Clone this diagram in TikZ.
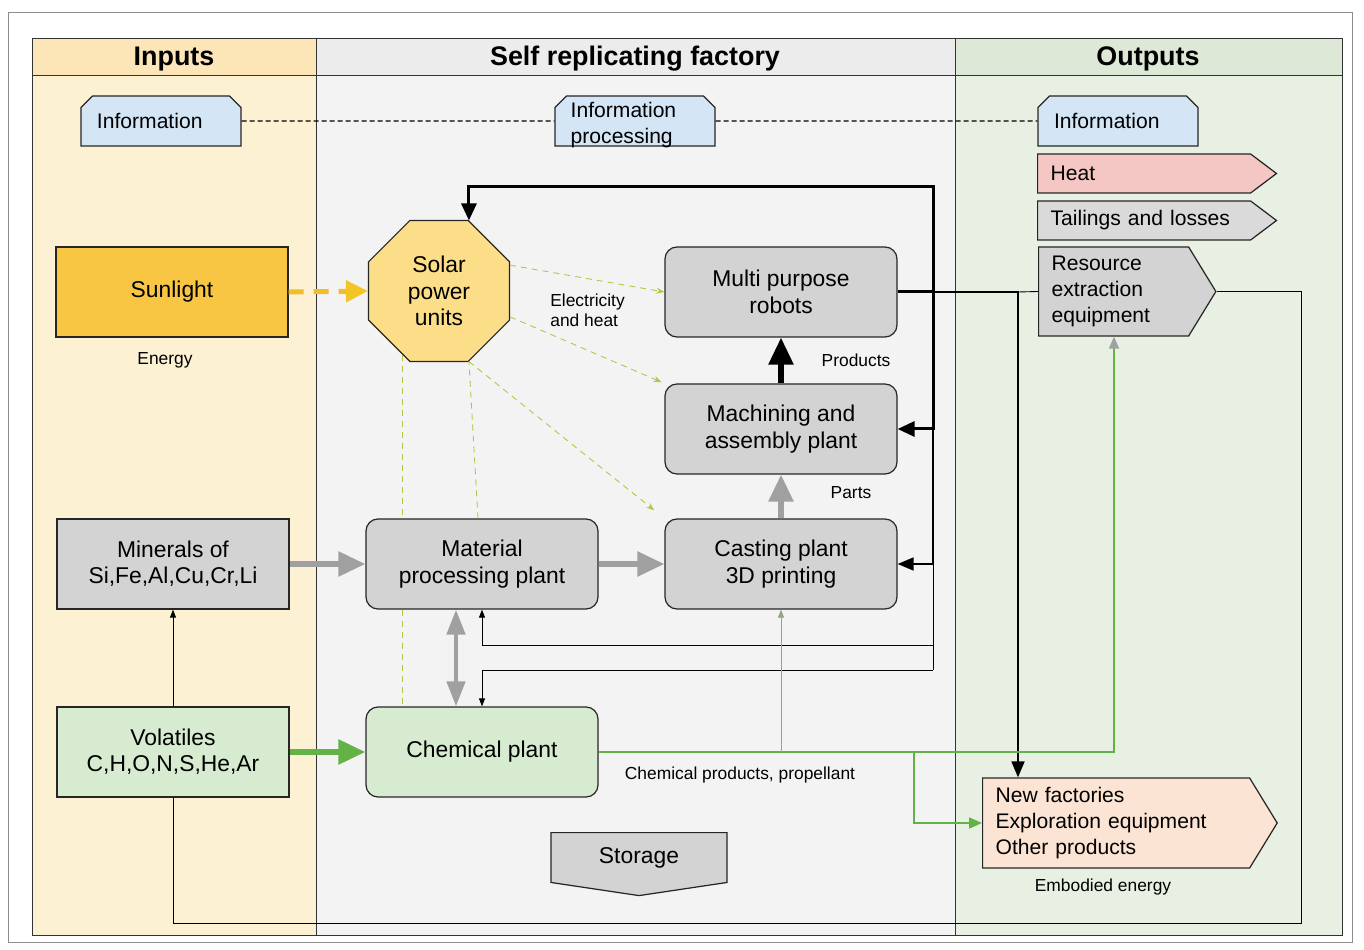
\documentclass[tikz,border=0pt]{standalone}
\usepackage{fontspec}
\setmainfont{Liberation Sans}
\usetikzlibrary{arrows.meta,shapes.geometric,shapes.misc,shapes.symbols}

\definecolor{inbg}{RGB}{253,241,212}
\definecolor{inhead}{RGB}{252,229,182}
\definecolor{facbg}{RGB}{243,243,243}
\definecolor{fachead}{RGB}{236,236,236}
\definecolor{outbg}{RGB}{232,240,227}
\definecolor{outhead}{RGB}{221,232,214}
\definecolor{infoblue}{RGB}{212,229,246}
\definecolor{sunfill}{RGB}{248,198,66}
\definecolor{solarfill}{RGB}{253,222,136}
\definecolor{boxgray}{RGB}{211,211,211}
\definecolor{tailgray}{RGB}{218,218,218}
\definecolor{chemgreen}{RGB}{214,235,208}
\definecolor{heatfill}{RGB}{245,199,196}
\definecolor{newfill}{RGB}{252,228,212}
\definecolor{flowgray}{RGB}{160,160,160}
\definecolor{flowgreen}{RGB}{98,178,72}
\definecolor{sunline}{RGB}{240,190,40}
\definecolor{elecline}{RGB}{185,195,70}

\newcommand{\mainfs}{\fontsize{13}{15}\selectfont}
\newcommand{\tagfs}{\fontsize{12}{15}\selectfont}
\newcommand{\headfs}{\fontsize{15.3}{18}\selectfont\bfseries}
\newcommand{\notefs}{\fontsize{9.9}{11.3}\selectfont}

\tikzset{
  head/.style={font=\headfs},
  note/.style={font=\notefs, align=left, inner sep=0pt},
  box/.style={draw=black!85, line width=0.7pt, minimum width=46.4mm,
    minimum height=18mm, align=center, font=\mainfs},
  plant/.style={box, rounded corners=2.4mm, fill=boxgray},
  infotag/.style={chamfered rectangle, chamfered rectangle corners={north west,north east},
    chamfered rectangle xsep=1mm, chamfered rectangle ysep=1.3mm,
    draw=black!85, line width=0.7pt, fill=infoblue, font=\tagfs,
    text width=25.6mm, align=left, inner xsep=2.2mm, minimum height=10mm},
  outsig/.style={signal, signal to=east, signal from=nowhere, anchor=west,
    draw=black!85, line width=0.7pt, font=\tagfs, align=left, inner xsep=2.6mm},
  solarunit/.style={regular polygon, regular polygon sides=8, minimum size=30.5mm,
    draw=black!85, line width=0.7pt, fill=solarfill, align=center, font=\mainfs, inner sep=0pt},
  storebox/.style={signal, signal to=south, signal from=nowhere, signal pointer angle=163,
    anchor=north, draw=black!85, line width=0.7pt, fill=boxgray, font=\mainfs,
    text width=30mm, align=center, inner xsep=2.6mm, minimum height=12.6mm},
  infolink/.style={black, line width=0.6pt, dash pattern=on 1mm off 0.6mm},
  sunflow/.style={sunline, line width=1mm, dash pattern=on 3mm off 2mm,
    -{Triangle[length=4.4mm, width=4.2mm, color=sunline!90!yellow]}},
  elec/.style={elecline, line width=0.5pt, dash pattern=on 1.2mm off 1mm},
  elecarr/.style={elec, -{Stealth[length=1.6mm, width=1.2mm]}},
  grayflow/.style={flowgray, line width=1.1mm, -{Triangle[length=5.4mm, width=4.8mm]}},
  blackflow/.style={black, line width=1.1mm, -{Triangle[length=5.4mm, width=4.8mm]}},
  greenflow/.style={flowgreen, line width=1.1mm, -{Triangle[length=5.4mm, width=4.8mm]}},
  loopthick/.style={black, line width=0.6mm, -{Triangle[length=3.4mm, width=3mm]}},
  loopmid/.style={black, line width=0.35mm, -{Triangle[length=3.2mm, width=2.6mm]}},
  loopthin/.style={black, line width=0.5pt, -{Triangle[length=1.6mm, width=1.2mm]}},
  chemflow/.style={flowgreen, line width=0.35mm},
}

\begin{document}
\begin{tikzpicture}[x=0.2mm, y=-0.2mm]
\useasboundingbox (0,0) rectangle (1364,950);

% Frame and lanes
\draw[black!45] (8,12) rectangle (1352,942);
\fill[inbg] (32,38) rectangle (316,935);
\fill[facbg] (316,38) rectangle (955,935);
\fill[outbg] (955,38) rectangle (1342,935);
\fill[inhead] (32,38) rectangle (316,75);
\fill[fachead] (316,38) rectangle (955,75);
\fill[outhead] (955,38) rectangle (1342,75);
\draw[black!80] (32,38) rectangle (1342,935);
\draw[black!80] (32,75) -- (1342,75);
\draw[black!80] (316,38) -- (316,935);
\draw[black!80] (955,38) -- (955,935);

\node[head] (hin) at (174,59) {Inputs};
\node[head] (hfac) at (635,59) {Self replicating factory};
\node[head] (hout) at (1148,59) {Outputs};

% Information
\node[infotag] (infoin) at (161,121) {Information};
\node[infotag] (infoproc) at (635,121) {};
\node[font=\tagfs, align=left, anchor=west, inner sep=0pt] (infoproctxt)
  at ([xshift=3.2mm, yshift=-0.8mm]infoproc.west) {Information\\processing};
\node[infotag] (infoout) at (1118,121) {Information};

% Outputs
\node[outsig, fill=heatfill, text width=37.4mm, minimum height=7.8mm,
  signal pointer angle=74] (heat) at (1037,173.5) {Heat};
\node[outsig, fill=tailgray, text width=37.4mm, minimum height=7.8mm,
  signal pointer angle=74] (tail) at (1037,220.5) {Tailings and losses};
\node[outsig, fill=boxgray, text width=24.8mm, minimum height=17.8mm,
  signal pointer angle=117] (resource) at (1038,291.5) {Resource\\extraction\\equipment};
\node[outsig, fill=newfill, text width=48.2mm, minimum height=18mm,
  signal pointer angle=117] (newf) at (982,823) {New factories\\Exploration equipment\\Other products};

% Inputs
\node[box, fill=sunfill] (sun) at (172,292) {Sunlight};
\node[box, fill=boxgray] (minerals) at (173,564) {Minerals of\\Si,Fe,Al,Cu,Cr,Li};
\node[box, fill=chemgreen] (vol) at (173,752) {Volatiles\\C,H,O,N,S,He,Ar};

% Factory
\node[solarunit] (solar) at (439,291) {Solar\\power\\units};
\node[plant] (robots) at (781,292) {Multi purpose\\robots};
\node[plant] (mach) at (781,429) {Machining and\\assembly plant};
\node[plant] (cast) at (781,564) {Casting plant\\3D printing};
\node[plant] (mat) at (482,564) {Material\\processing plant};
\node[plant, fill=chemgreen] (chem) at (482,752) {Chemical plant};
\node[storebox] (store) at (639,832) {Storage};

% Labels
\node[note] (energylbl) at (165,360) {Energy};
\node[note, anchor=west] (eleclbl) at (550,310) {Electricity\\and heat};
\node[note] (prodlbl) at (856,360) {Products};
\node[note] (partlbl) at (851,493) {Parts};
\node[note] (chemlbl) at (740,775) {Chemical products, propellant};
\node[note] (embodlbl) at (1103,887) {Embodied energy};

% Junctions
\coordinate (jr) at (933,292);
\coordinate (jtop) at (933,187);
\coordinate (jmat) at (933,645);
\coordinate (jchem) at (933,670);
\coordinate (jn) at (1018,292);
\coordinate (lb) at (1301,923);
\coordinate (gr) at (1114,752);
\coordinate (gn) at (914,752);
\coordinate (gk) at (781,752);

% Information links
\draw[infolink] (infoin) -- (infoproc);
\draw[infolink] (infoproc) -- (infoout);

% Energy
\draw[sunflow] (sun.east) -- (solar.west);
\draw[elecarr] (solar.20) -- (robots.west);
\draw[elecarr, shorten >=0.6mm] (solar.-20) -- (mach.north west);
\draw[elecarr, shorten >=2.6mm] (solar.-67.5) -- (cast.north west);
\draw[elec] ([xshift=-0.8mm]mat.north) -- (solar.-67.5);
\draw[elec] (solar.-120) -- (solar.-120 |- mat.north);
\draw[elec] (solar.-120 |- mat.south) -- (solar.-120 |- chem.north);

% Material flow
\draw[grayflow] (minerals) -- (mat);
\draw[grayflow] (mat) -- (cast);
\draw[grayflow] (cast) -- (mach);
\draw[blackflow] (mach) -- (robots);
\draw[greenflow] (vol) -- (chem);
\draw[flowgray, line width=0.9mm, {Triangle[length=5mm, width=3.6mm]}-{Triangle[length=5mm, width=3.6mm]}]
  ([xshift=-5.2mm]mat.south) -- ([xshift=-5.2mm]chem.north);
\draw[loopthin] (vol) -- (minerals);

% Robots feeding back
\draw[loopthick] (robots.east) -| (jtop) -| (solar.67.5);
\draw[loopthick] (jr) |- (mach.east);
\draw[loopmid] (jr) |- (cast.east);
\draw[black, line width=0.5pt] (jr) -- (jchem);
\draw[loopthin] (jmat) -| (mat.south);
\draw[loopthin] (jchem) -| (chem.north);
\draw[loopmid] (jr) -- (jn) -- (jn |- newf.north);
\draw[black, line width=0.5pt] (jn) -- (resource.west);
\draw[black, line width=0.5pt] (vol.south) |- (lb) |- (resource.east);

% Chemical products
\draw[chemflow, -{Triangle[length=2.4mm, width=2mm, color=flowgray]}] (chem.east) -- (gr) -- (gr |- resource.south);
\draw[chemflow, -{Triangle[length=2.6mm, width=2.2mm]}] (gn) |- (newf.west);
\draw[flowgray!80!flowgreen, line width=0.4pt, -{Triangle[length=1.6mm, width=1.2mm]}] (gk) -- (cast.south);

\end{tikzpicture}
\end{document}
